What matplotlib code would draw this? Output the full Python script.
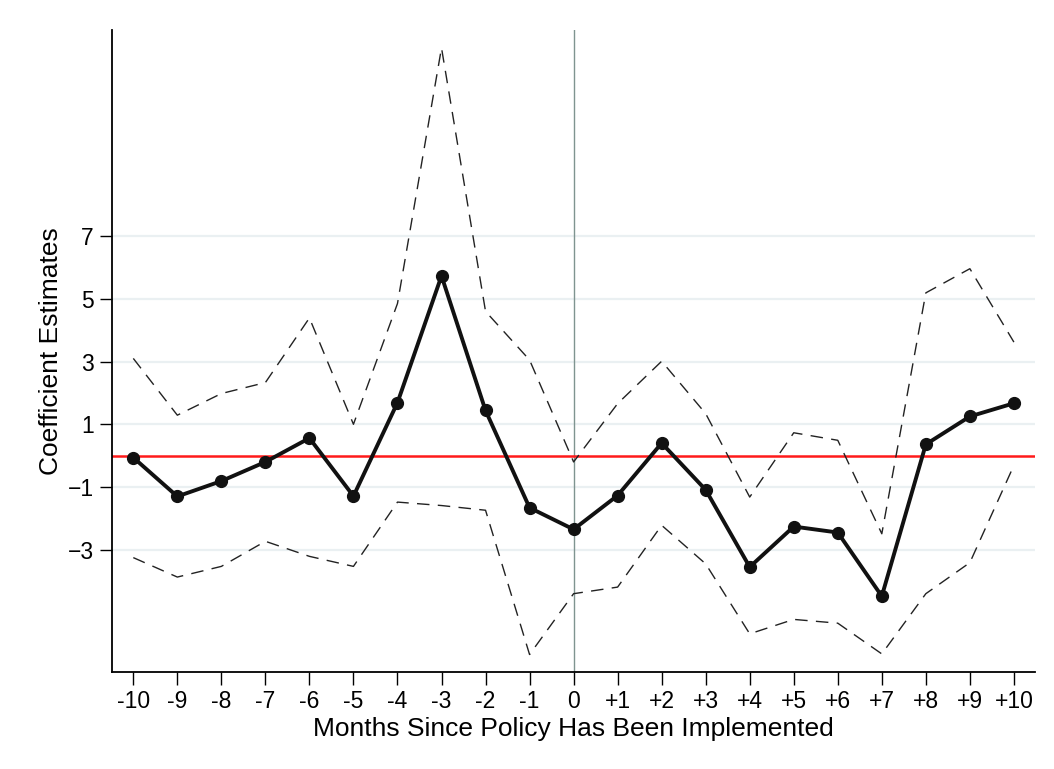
import matplotlib.pyplot as plt

plt.rcParams['font.family'] = ['Liberation Sans', 'DejaVu Sans']

# months relative to policy start
months = list(range(-10, 11))
month_labels = ['-10', '-9', '-8', '-7', '-6', '-5', '-4', '-3', '-2', '-1', '0',
                '+1', '+2', '+3', '+4', '+5', '+6', '+7', '+8', '+9', '+10']

# point estimates
coef = [-0.06, -1.30, -0.81, -0.20, 0.56, -1.29, 1.69, 5.73, 1.44, -1.66, -2.35,
        -1.27, 0.40, -1.09, -3.55, -2.26, -2.45, -4.48, 0.36, 1.25, 1.67]
# confidence bands
upper = [3.10, 1.29, 1.98, 2.33, 4.39, 1.00, 4.85, 13.0, 4.60, 3.05, -0.20,
         1.66, 3.01, 1.34, -1.32, 0.73, 0.49, -2.49, 5.19, 5.96, 3.62]
lower = [-3.25, -3.87, -3.53, -2.73, -3.21, -3.53, -1.48, -1.59, -1.74, -6.34, -4.40,
         -4.19, -2.22, -3.45, -5.68, -5.22, -5.34, -6.32, -4.40, -3.41, -0.31]

y_ticks = [-3, -1, 1, 3, 5, 7]

fig = plt.figure(figsize=(10.54, 7.69), dpi=100)
ax = fig.add_axes([0.106, 0.126, 0.876, 0.835])

# grid lines
for t in y_ticks:
    ax.axhline(t, color='#eaf0f2', lw=1.6, zorder=0)

ax.axvline(0, color='#7f9490', lw=1.0, zorder=1)
ax.axhline(0, color='#ff1a1a', lw=1.8, zorder=2)

ax.plot(months, upper, color='#222222', lw=1.0, ls=(0, (9, 6)), zorder=3)
ax.plot(months, lower, color='#222222', lw=1.0, ls=(0, (9, 6)), zorder=3)
ax.plot(months, coef, color='#111111', lw=2.8, marker='o', ms=8.5, zorder=4)

ax.set_xlim(-10.49, 10.48)
ax.set_ylim(-6.9, 13.57)
ax.set_xticks(months)
ax.set_xticklabels(month_labels)
ax.set_yticks(y_ticks)
ax.tick_params(axis='both', direction='out', length=9, width=1.0, labelsize=16.5, pad=4)

ax.spines['top'].set_visible(False)
ax.spines['right'].set_visible(False)
ax.spines['left'].set_linewidth(1.3)
ax.spines['bottom'].set_linewidth(1.3)

ax.set_xlabel('Months Since Policy Has Been Implemented', fontsize=19, labelpad=3)
ax.set_ylabel('Coefficient Estimates', fontsize=19, labelpad=3)

fig.savefig('out.png', dpi=100)
